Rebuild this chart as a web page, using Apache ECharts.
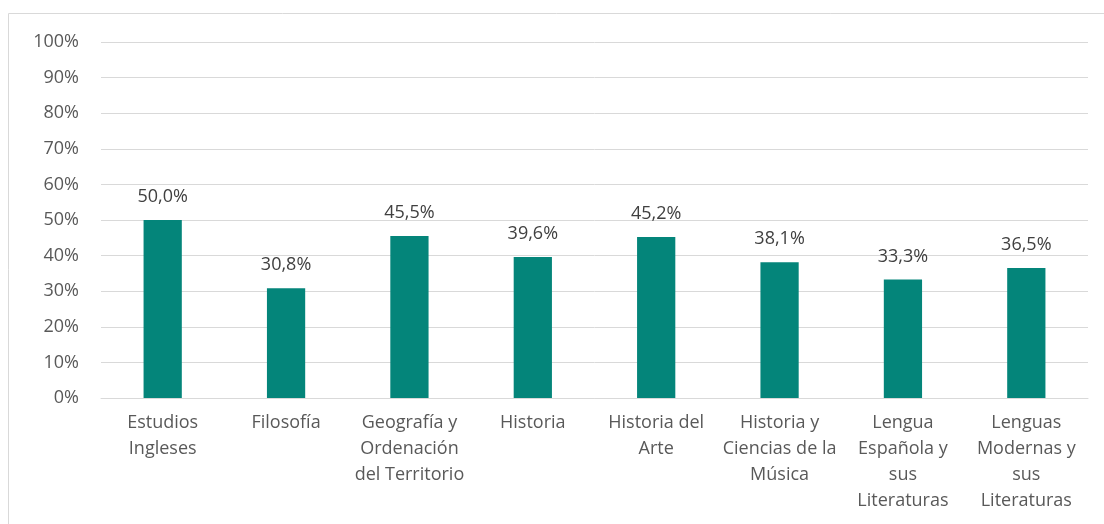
<!DOCTYPE html>
<html><head><meta charset="utf-8">
<script src="https://cdn.jsdelivr.net/npm/echarts@6/dist/echarts.min.js"></script>
<style>html,body{margin:0;padding:0;background:#fff}#c{width:1104px;height:524px}</style>
</head><body><div id="c"></div>
<script>
const categories = ["Estudios\nIngleses", "Filosofía", "Geografía y\nOrdenación\ndel Territorio", "Historia", "Historia del\nArte", "Historia y\nCiencias de la\nMúsica", "Lengua\nEspañola y\nsus\nLiteraturas", "Lenguas\nModernas y\nsus\nLiteraturas"];
const values = [50.0, 30.8, 45.5, 39.6, 45.2, 38.1, 33.3, 36.5];
const yTicks = [0, 10, 20, 30, 40, 50, 60, 70, 80, 90, 100];

const chart = echarts.init(document.getElementById('c'), null, {renderer: 'canvas'});
const FONT = 'Open Sans';
chart.setOption({
  animation: false,
  graphic: [{type: 'rect', shape: {x: 8.5, y: 13.5, width: 1200, height: 600}, style: {fill: 'none', stroke: '#d9d9d9', lineWidth: 1}, silent: true}],
  grid: {left: 101, right: 16, top: 42, bottom: 126},
  xAxis: {
    type: 'category', data: categories,
    axisLine: {show: true, lineStyle: {color: '#d9d9d9', width: 1}},
    axisTick: {show: false},
    axisLabel: {color: '#595959', fontFamily: FONT, fontSize: 18, lineHeight: 26, margin: 12, interval: 0}
  },
  yAxis: {
    type: 'value', min: yTicks[0], max: yTicks[yTicks.length - 1], interval: 10,
    axisLine: {show: false}, axisTick: {show: false},
    splitLine: {lineStyle: {color: '#d9d9d9', width: 1}},
    axisLabel: {color: '#595959', fontFamily: FONT, fontSize: 18, margin: 22, formatter: v => v + '%'}
  },
  series: [{
    type: 'bar', data: values, barWidth: '31%',
    itemStyle: {color: '#04857a'},
    label: {show: true, position: 'top', distance: 14, color: '#404040', fontFamily: FONT, fontSize: 18,
      formatter: p => p.value.toFixed(1).replace('.', ',') + '%'}
  }]
});
</script></body></html>
